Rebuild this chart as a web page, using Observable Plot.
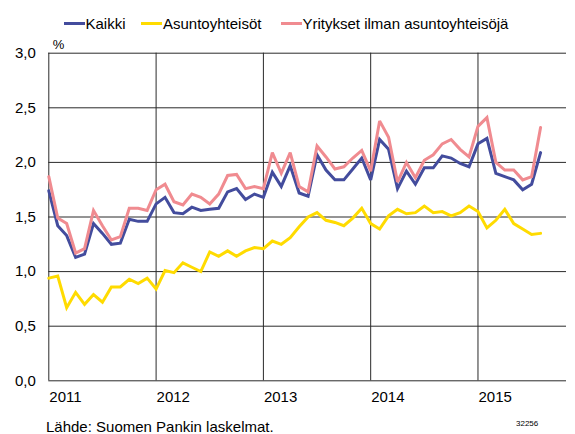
<!DOCTYPE html>
<html>
<head>
<meta charset="utf-8">
<script src="https://cdn.jsdelivr.net/npm/d3@7"></script>
<script src="https://cdn.jsdelivr.net/npm/@observablehq/plot@0.6"></script>
<style>
  html, body { margin: 0; padding: 0; background: #fff; }
  #wrap { position: relative; width: 575px; height: 434px; overflow: hidden; font-family: "Liberation Sans", Arial, sans-serif; color: #000; }
  .leg { position: absolute; top: 15px; height: 17px; line-height: 17px; font-size: 15px; white-space: nowrap; }
  .sw { position: absolute; top: 7px; width: 21px; height: 3px; }
  .lt { position: absolute; left: 22px; top: 0; }
  #chart { position: absolute; left: 0; top: 36px; }
  #cap { position: absolute; left: 46px; top: 419px; font-size: 15px; line-height: 15px; white-space: nowrap; }
  #num { position: absolute; left: 516px; top: 419px; font-size: 8px; line-height: 10px; }
</style>
</head>
<body>
<div id="wrap">
  <div id="legend"></div>
  <div id="chart"></div>
  <div id="cap">Lähde: Suomen Pankin laskelmat.</div>
  <div id="num">32256</div>
</div>
<script>
// Monthly data, January 2011 – August 2015
const startYear = 2011;
const seriesNames = ["Kaikki", "Asuntoyhteisöt", "Yritykset ilman asuntoyhteisöjä"];
const seriesColors = ["#434c9d", "#ffdb00", "#f08b90"];

const kaikki = [
  1.74, 1.42, 1.33, 1.13, 1.16, 1.44, 1.35, 1.25, 1.26, 1.48, 1.46, 1.46,
  1.62, 1.68, 1.54, 1.53, 1.59, 1.56, 1.57, 1.58, 1.73, 1.76, 1.66, 1.71,
  1.68, 1.91, 1.78, 1.97, 1.72, 1.69, 2.07, 1.93, 1.84, 1.84, 1.94, 2.04,
  1.84, 2.21, 2.12, 1.76, 1.92, 1.80, 1.95, 1.95, 2.06, 2.04, 1.99, 1.96,
  2.17, 2.22, 1.90, 1.87, 1.84, 1.75, 1.80, 2.09
];
const asuntoyhteisot = [
  0.94, 0.96, 0.67, 0.81, 0.70, 0.79, 0.72, 0.86, 0.86, 0.93, 0.89, 0.94,
  0.84, 1.01, 0.99, 1.08, 1.04, 1.00, 1.18, 1.14, 1.19, 1.14, 1.19, 1.22,
  1.21, 1.28, 1.25, 1.31, 1.41, 1.50, 1.54, 1.47, 1.45, 1.42, 1.49, 1.58,
  1.44, 1.39, 1.51, 1.57, 1.53, 1.54, 1.60, 1.54, 1.55, 1.51, 1.54, 1.60,
  1.55, 1.40, 1.47, 1.57, 1.44, 1.39, 1.34, 1.35
];
const yritykset = [
  1.87, 1.49, 1.44, 1.17, 1.21, 1.56, 1.42, 1.29, 1.32, 1.58, 1.58, 1.56,
  1.75, 1.80, 1.64, 1.61, 1.71, 1.68, 1.62, 1.71, 1.88, 1.89, 1.76, 1.78,
  1.76, 2.09, 1.90, 2.09, 1.78, 1.73, 2.15, 2.05, 1.94, 1.96, 2.04, 2.11,
  1.92, 2.38, 2.23, 1.82, 2.00, 1.86, 2.02, 2.07, 2.17, 2.21, 2.12, 2.05,
  2.33, 2.41, 2.00, 1.93, 1.93, 1.84, 1.87, 2.32
];
const yearTicks = [2011, 2012, 2013, 2014, 2015];
const yTicks = [0, 0.5, 1, 1.5, 2, 2.5, 3];

// Build long table
const seriesValues = [kaikki, asuntoyhteisot, yritykset];
const rows = [];
seriesValues.forEach((vals, s) => {
  vals.forEach((v, i) => rows.push({ x: startYear + i / 12, y: v, series: seriesNames[s] }));
});

// Legend
const legendLeft = [63.5, 141, 280.5];
const legend = document.getElementById("legend");
seriesNames.forEach((name, i) => {
  const d = document.createElement("div");
  d.className = "leg";
  d.style.left = legendLeft[i] + "px";
  d.innerHTML = `<span class="sw" style="background:${seriesColors[i]}"></span><span class="lt">${name}</span>`;
  legend.appendChild(d);
});

const chart = Plot.plot({
  width: 575,
  height: 384,
  marginLeft: 48.3,
  marginRight: 9,
  marginTop: 16.7,
  marginBottom: 39.7,
  style: { fontFamily: "Liberation Sans, Arial, sans-serif", fontSize: "15px", color: "#000", background: "transparent" },
  x: { type: "linear", domain: [2011, 2011 + 57.9 / 12] },
  y: { domain: [0, 3] },
  marks: [
    Plot.ruleY(yTicks, { stroke: "#2a2a2a", strokeWidth: 1 }),
    Plot.ruleX(yearTicks, { stroke: "#2a2a2a", strokeWidth: 1 }),
    Plot.axisY({ ticks: yTicks, tickSize: 0, tickPadding: 13, tickFormat: d => d.toFixed(1).replace(".", ","), fontSize: 15, label: null }),
    Plot.axisX({ ticks: yearTicks, tickSize: 0, tickPadding: 11, tickFormat: d => String(d), textAnchor: "start", dx: 0.5, fontSize: 15, label: null }),
    Plot.text(["%"], { x: () => 2011, y: () => 3, text: d => d, textAnchor: "start", dx: 4, dy: -8, fontSize: 13 }),
    Plot.line(rows, { x: "x", y: "y", z: "series", stroke: "series", strokeWidth: 3, strokeLinejoin: "miter", strokeMiterlimit: 3 })
  ],
  color: { domain: seriesNames, range: seriesColors }
});
document.getElementById("chart").appendChild(chart);
</script>
</body>
</html>
